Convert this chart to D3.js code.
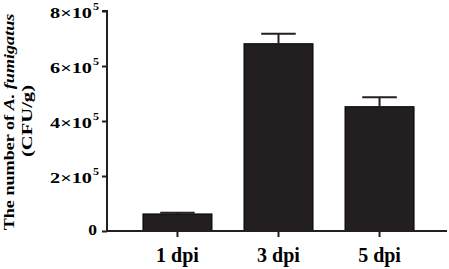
<!DOCTYPE html>
<html><head><meta charset="utf-8">
<script src="https://cdn.jsdelivr.net/npm/d3@7"></script>
<style>body{margin:0;background:#fff}svg{display:block}text{font-family:"Liberation Serif","Times New Roman",serif;font-weight:bold}</style>
</head><body><svg id="c" width="449" height="269"></svg>
<script>
const categories = ["1 dpi", "3 dpi", "5 dpi"];
const means = [62000, 681000, 452000];
const errors = [4000, 36000, 34000];
const yTicks = [0, 200000, 400000, 600000, 800000];
const yTickLabels = ["0", "2", "4", "6", "8"];

const svg = d3.select("#c");
const x0 = 107, x1 = 447, y0 = 231, yTop = 11;
const x = d3.scaleBand().domain(categories).range([127, 430]).paddingInner(0.317).paddingOuter(0.158);
const y = d3.scaleLinear().domain([0, 800000]).range([y0, yTop]);
const ink = "#231f20";

function fit(sel, len) {
  const w = sel.node().getBBox().width;
  if (w > 0) sel.attr("transform", (sel.attr("transform") || "") + ` scale(${len / w},1)`);
}

svg.selectAll("rect.bar").data(categories).join("rect")
  .attr("x", d => x(d)).attr("width", x.bandwidth())
  .attr("y", (d, i) => y(means[i])).attr("height", (d, i) => y0 - y(means[i]))
  .attr("fill", ink).attr("stroke", "#000").attr("stroke-width", 1);

const cap = x.bandwidth() / 2;
categories.forEach((c, i) => {
  const cx = x(c) + x.bandwidth() / 2;
  svg.append("line").attr("x1", cx).attr("x2", cx).attr("y1", y(means[i])).attr("y2", y(means[i] + errors[i]))
    .attr("stroke", ink).attr("stroke-width", 2);
  svg.append("line").attr("x1", cx - cap / 2).attr("x2", cx + cap / 2).attr("y1", y(means[i] + errors[i])).attr("y2", y(means[i] + errors[i]))
    .attr("stroke", ink).attr("stroke-width", 2);
});

const ya = svg.append("g").attr("transform", `translate(${x0},0)`)
  .call(d3.axisLeft(y).tickValues(yTicks).tickSize(5).tickFormat(() => ""));
ya.select(".domain").attr("d", `M-5,${yTop}H0V${y0}`).attr("stroke", ink).attr("stroke-width", 2);
ya.selectAll(".tick line").attr("stroke", ink).attr("stroke-width", 2);

// y tick labels (horizontally widened like the reference)
yTicks.forEach((v, i) => {
  if (v === 0) {
    svg.append("text").attr("fill", "#000").attr("text-anchor", "end").attr("font-size", 14)
      .attr("transform", `translate(${x0 - 10},${y(v) + 4}) scale(1.25,1)`).text("0");
  } else {
    svg.append("text").attr("fill", "#000").attr("text-anchor", "end").attr("font-size", 14)
      .attr("transform", `translate(${x0 - 15},${y(v) + 7.3}) scale(1.45,1)`).text(yTickLabels[i] + "×10");
    svg.append("text").attr("fill", "#000").attr("text-anchor", "end").attr("font-size", 11)
      .attr("transform", `translate(${x0 - 8},${y(v) - 1.5}) scale(1.1,1)`).text("5");
  }
});

const xa = svg.append("g").attr("transform", `translate(0,${y0})`)
  .call(d3.axisBottom(x).tickSize(6).tickFormat(""));
xa.select(".domain").attr("d", `M${x0},0H${x1}`).attr("stroke", ink).attr("stroke-width", 2);
xa.selectAll(".tick line").attr("stroke", ink).attr("stroke-width", 2);
xa.selectAll(".tick").append("text").attr("fill", "#000").attr("font-size", 20)
  .attr("y", 31).attr("text-anchor", "middle").text(d => d);

const yt = svg.append("text").attr("transform", "translate(14,122) rotate(-90)").attr("text-anchor", "middle")
  .attr("font-size", 15);
yt.append("tspan").text("The number of ");
yt.append("tspan").attr("font-style", "italic").text("A. fumigatus");
fit(yt, 217);
const yt2 = svg.append("text").attr("transform", "translate(32,121) rotate(-90)").attr("text-anchor", "middle")
  .attr("font-size", 15).text("(CFU/g)");
fit(yt2, 72);
</script></body></html>
